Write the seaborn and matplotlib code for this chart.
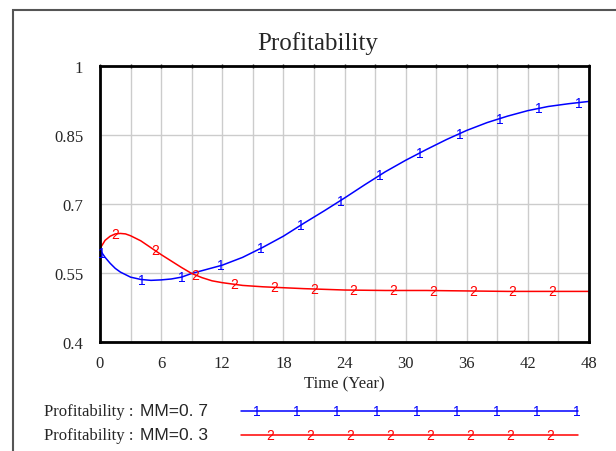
import numpy as np
import pandas as pd
import matplotlib
matplotlib.use("Agg")
import matplotlib.pyplot as plt
import seaborn as sns
from matplotlib.patches import Rectangle

# run 1: MM=0.7 (blue), run 2: MM=0.3 (red)
time_run1 = [0, 0.5, 1, 1.5, 2, 3, 4, 5, 6, 7, 8, 9, 10, 12, 14, 16, 18, 20, 22, 24,
             26, 28, 30, 32, 34, 36, 38, 40, 42, 44, 46, 48]
prof_run1 = [0.600, 0.584, 0.571, 0.560, 0.552, 0.541, 0.536, 0.534, 0.535, 0.537,
             0.541, 0.549, 0.555, 0.567, 0.584, 0.606, 0.630, 0.658, 0.685, 0.713,
             0.742, 0.770, 0.795, 0.818, 0.840, 0.860, 0.877, 0.891, 0.903, 0.912,
             0.918, 0.923]
time_run2 = [0, 0.5, 1, 1.5, 2, 2.5, 3, 4, 5, 6, 7, 8, 9, 10, 11, 12, 13, 14, 16,
             18, 20, 24, 28, 32, 36, 40, 44, 48]
prof_run2 = [0.603, 0.621, 0.630, 0.635, 0.636, 0.635, 0.631, 0.620, 0.605, 0.590,
             0.576, 0.562, 0.549, 0.540, 0.533, 0.529, 0.526, 0.523, 0.520, 0.518,
             0.516, 0.513, 0.512, 0.512, 0.511, 0.510, 0.510, 0.510]
run_names = ["Profitability : MM=0. 7", "Profitability : MM=0. 3"]
run_colors = ["#0000ff", "#ff0000"]
run_marks = ["1", "2"]
x_ticks = [0, 6, 12, 18, 24, 30, 36, 42, 48]
y_ticks = [0.4, 0.55, 0.7, 0.85, 1.0]
y_labels = ["0.4", "0.55", "0.7", "0.85", "1"]

sns.set_style("white")
plt.rcParams['font.family'] = ['Liberation Serif', 'DejaVu Serif']

df = pd.concat([
    pd.DataFrame({'Time': time_run1, 'Profitability': prof_run1, 'Run': run_names[0]}),
    pd.DataFrame({'Time': time_run2, 'Profitability': prof_run2, 'Run': run_names[1]}),
])

W, H = 616, 452
fig = plt.figure(figsize=(W / 100, H / 100), dpi=100)
ax = fig.add_axes([100 / W, 1 - 343 / H, 489 / W, 276 / H])

sns.lineplot(data=df, x='Time', y='Profitability', hue='Run', palette=run_colors,
             estimator=None, legend=False, linewidth=1.1, ax=ax)

# numbered marks along each run, like Vensim
for (tt, pp), col, mk, start in zip([(time_run1, prof_run1), (time_run2, prof_run2)],
                                    run_colors, run_marks, [0.2, 1.5]):
    for t in np.arange(start, 48, 3.9):
        ax.text(t, np.interp(t, tt, pp), mk, color=col, ha='center', va='center',
                fontsize=10, family='Liberation Sans')

ax.set_xlim(0, 48)
ax.set_ylim(0.4, 1.0)
ax.set_xticks(x_ticks)
ax.set_xticks(np.arange(0, 49, 3), minor=True)
ax.set_yticks(y_ticks)
ax.set_yticklabels(y_labels)
ax.grid(True, which='both', axis='x', color='#cccccc', lw=1)
ax.grid(True, which='major', axis='y', color='#cccccc', lw=1)
ax.set_axisbelow(True)
ax.tick_params(axis='x', which='both', length=3, direction='inout', top=True,
               labelsize=12, pad=8, width=1)
ax.tick_params(axis='y', length=0, labelsize=12, pad=12)
for s in ax.spines.values():
    s.set_color('black')
    s.set_linewidth(2)
ax.set_xlabel("Time (Year)", fontsize=12, labelpad=3)
ax.set_ylabel("")

fig.text(318 / W, 1 - 50 / H, "Profitability", fontsize=18, ha='center', va='baseline')

# outer window frame
fig.patches.append(Rectangle((13 / W, -0.2), 1.2, 1.2 - 11 / H, transform=fig.transFigure,
                             fill=False, ec='#555555', lw=1.5))

# legend drawn in pixel space
lax = fig.add_axes([0, 0, 1, 1], zorder=-1)
lax.set_xlim(0, W)
lax.set_ylim(H, 0)
lax.axis('off')
for i, (name, col, mk) in enumerate(zip(run_names, run_colors, run_marks)):
    y = 412 + 24 * i
    left, right = name.split(':')
    lax.text(44, y, left + ':', fontsize=12, va='center', ha='left')
    lax.text(140, y, right.strip(), fontsize=12.5, va='center', ha='left',
             family='Liberation Sans')
    lax.plot([241, 578], [y, y], color=col, lw=1.1)
    n = 9 if i == 0 else 8
    x0 = 257 if i == 0 else 270
    for k in range(n):
        lax.text(x0 + 40 * k, y, mk, color=col, ha='center', va='center',
                 fontsize=10, family='Liberation Sans')

fig.savefig('out.png', dpi=100)
